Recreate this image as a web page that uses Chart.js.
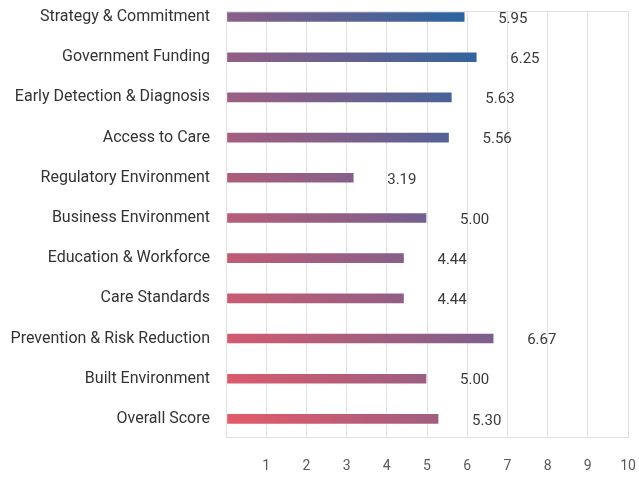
<!DOCTYPE html>
<html>
<head>
<meta charset="utf-8">
<script src="https://cdn.jsdelivr.net/npm/chart.js@4.4.1/dist/chart.umd.min.js"></script>
<style>
  html, body { margin: 0; padding: 0; background: #fff; }
  #wrap { width: 639px; height: 479px; }
</style>
</head>
<body>
<div id="wrap"><canvas id="scoreChart"></canvas></div>
<script>
// Chart data
const categories = [
    'Strategy & Commitment',
    'Government Funding',
    'Early Detection & Diagnosis',
    'Access to Care',
    'Regulatory Environment',
    'Business Environment',
    'Education & Workforce',
    'Care Standards',
    'Prevention & Risk Reduction',
    'Built Environment',
    'Overall Score'
];
const scores = [5.95, 6.25, 5.63, 5.56, 3.19, 5.00, 4.44, 4.44, 6.67, 5.00, 5.30];
const xTicks = [1, 2, 3, 4, 5, 6, 7, 8, 9, 10];

const Y_MIN = -0.15;
const Y_MAX = 10.45;

Chart.defaults.font.family = "Roboto, 'Noto Sans', sans-serif";
Chart.defaults.font.size = 14;

// red (bottom left) -> purple -> blue (upper right)
function barGradient(context) {
    const { ctx, chartArea } = context.chart;
    if (!chartArea) return '#8a5f88';
    const w = chartArea.right - chartArea.left;
    const h = chartArea.bottom - chartArea.top;
    const g = ctx.createLinearGradient(chartArea.left, chartArea.bottom,
        chartArea.left + w * 0.985, chartArea.bottom - h * 0.655);
    g.addColorStop(0, '#e85a68');
    g.addColorStop(0.5, '#8a5f88');
    g.addColorStop(1, '#1565a5');
    return g;
}

// value labels to the right of each bar
const valueLabels = {
    id: 'valueLabels',
    afterDatasetsDraw(chart) {
        const ctx = chart.ctx;
        const meta = chart.getDatasetMeta(0);
        ctx.save();
        ctx.font = "15px Roboto, 'Noto Sans', sans-serif";
        ctx.fillStyle = '#3a3a3a';
        ctx.textAlign = 'left';
        ctx.textBaseline = 'middle';
        meta.data.forEach((bar, i) => {
            ctx.fillText(scores[i].toFixed(2), bar.x + 33, bar.y + 2);
        });
        ctx.restore();
    }
};

// no extra room for half-labels at the scale ends
function noEdgePadding(s) {
    s.paddingLeft = 0;
    s.paddingRight = 0;
    s.paddingTop = 0;
    s.paddingBottom = 0;
}

new Chart(document.getElementById('scoreChart'), {
    type: 'bar',
    data: {
        datasets: [{
            data: scores.map((v, i) => ({ x: v, y: i })),
            backgroundColor: barGradient,
            borderColor: 'rgba(255, 255, 255, 0.35)',
            borderWidth: 1,
            borderSkipped: false,
            barThickness: 11
        }]
    },
    options: {
        indexAxis: 'y',
        responsive: true,
        maintainAspectRatio: false,
        animation: false,
        layout: { padding: { top: 11, right: 11, left: 0, bottom: 0 } },
        plugins: {
            legend: { display: false },
            tooltip: { enabled: false }
        },
        scales: {
            x: {
                type: 'linear',
                min: 0,
                max: 10,
                afterFit: s => { s.height = 42; noEdgePadding(s); },
                afterBuildTicks: s => {
                    s.ticks = [0].concat(xTicks).map(v => ({ value: v }));
                },
                ticks: {
                    color: '#595959',
                    padding: 21,
                    maxRotation: 0,
                    callback: v => (v === 0 ? '' : v)
                },
                grid: { color: '#e0e0e0', drawTicks: false },
                border: { color: '#e0e0e0' }
            },
            y: {
                type: 'linear',
                reverse: true,
                offset: false,
                min: Y_MIN,
                max: Y_MAX,
                afterFit: s => { s.width = 226; noEdgePadding(s); },
                afterBuildTicks: s => {
                    s.ticks = [Y_MIN].concat(categories.map((c, i) => i), [Y_MAX]).map(v => ({ value: v }));
                },
                ticks: {
                    autoSkip: false,
                    color: '#333333',
                    padding: 16,
                    font: { size: 16 },
                    callback: v => (Number.isInteger(v) ? categories[v] : '')
                },
                grid: {
                    offset: false,
                    drawTicks: false,
                    color: c => (c.tick && c.tick.value === Y_MIN ? '#e0e0e0' : 'transparent')
                },
                border: { display: false }
            }
        }
    },
    plugins: [valueLabels]
});
</script>
</body>
</html>
